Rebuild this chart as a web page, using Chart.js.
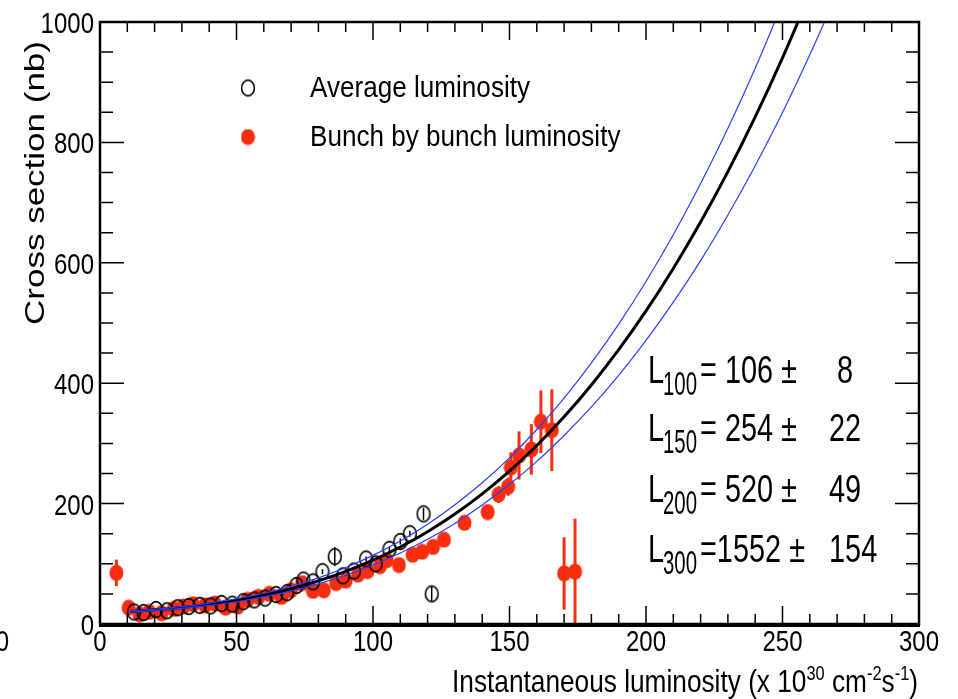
<!DOCTYPE html>
<html>
<head>
<meta charset="utf-8">
<script src="https://cdn.jsdelivr.net/npm/chart.js@4.4.1/dist/chart.umd.min.js"></script>
<style>
  body { margin: 0; background: #fff; }
  #wrap { width: 958px; height: 699px; position: relative; }
</style>
</head>
<body>
<div id="wrap"><canvas id="xsecChart"></canvas></div>
<script>
// tick labels
const xTickLabels = [0, 50, 100, 150, 200, 250, 300];
const yTickLabels = [0, 200, 400, 600, 800, 1000];

// fit curve and its error band
const fitX    = [11, 20, 30, 40, 50, 60, 70, 80, 90, 100, 110, 120, 130, 140, 150, 160, 170, 180, 190, 200, 210, 220, 230, 240, 250, 260];
const fitY    = [20.8, 23.5, 27.5, 32.8, 39.5, 48.1, 58.6, 71.6, 87.4, 106, 127.9, 153.3, 182.6, 216.2, 254, 296.6, 344.2, 397.1, 455.6, 520, 590.6, 667.6, 751.4, 842.3, 940.5, 1046.4];
const bandX   = [11, 20, 30, 40, 50, 60, 70, 80, 90, 100, 110, 120, 130, 140, 150, 160, 170, 180, 190, 200, 210, 220, 230, 240, 250, 260, 270];
const bandUp  = [21.8, 24.7, 29, 34.8, 42, 51.1, 62.6, 76.6, 93.9, 114, 137.9, 165.8, 198.1, 234.7, 276, 323.1, 375.2, 433.6, 498.1, 569, 646.6, 731.6, 823.4, 923.3, 1031.5, 1147.4, 1272];
const bandLow = [19.8, 22.3, 26, 30.8, 37, 45.1, 54.6, 66.6, 80.9, 98, 117.9, 140.8, 167.1, 197.7, 232, 270.1, 313.2, 360.6, 413.1, 471, 534.6, 603.6, 679.4, 761.3, 849.5, 945.4, 1048];

// average luminosity (open circles)
const avgX   = [12.5, 16, 20.5, 24.5, 28.5, 32.5, 36.5, 40.5, 44.5, 48.5, 52.5, 56.5, 60.5, 64.5, 68.5, 72, 74.5, 78, 81.5, 86, 89, 93, 97.5, 101, 106, 110, 113.5, 118.5, 121.5];
const avgY   = [20, 19, 24, 22, 27, 29, 31, 30, 34, 33, 37, 40, 43, 49, 52, 64, 73, 70, 87, 112, 80, 88, 108, 100, 124, 137, 150, 183, 50];
const avgErr = [2, 2, 2, 2, 2, 2, 2, 2, 2, 2, 3, 3, 3, 3, 3, 3, 3, 3, 4, 16, 4, 4, 4, 4, 5, 5, 5, 10, 12];

// bunch by bunch luminosity (red points)
const bunchX   = [6, 10.5, 14.5, 18, 22.5, 27, 30.5, 34, 38.5, 42, 46, 50.5, 54, 58, 62, 66.5, 70, 74, 78, 82, 86.5, 90, 94.5, 98, 102.5, 105, 109.5, 114.5, 118, 122, 126, 133.5, 142, 146, 149.5, 150.5, 153.5, 158, 161.5, 165.5, 170, 174];
const bunchY   = [85, 27, 16, 20, 18, 25, 29, 33, 31, 34, 27, 29, 40, 45, 50, 45, 56, 68, 55, 56, 68, 72, 82, 88, 96, 106, 98, 115, 120, 128, 140, 168, 186, 215, 228, 260, 280, 290, 336, 322, 84, 87];
const bunchErr = [22, 6, 5, 5, 5, 5, 5, 5, 5, 5, 5, 5, 5, 5, 5, 5, 5, 6, 6, 6, 6, 6, 6, 6, 6, 6, 7, 7, 7, 7, 8, 8, 12, 14, 15, 25, 40, 42, 52, 68, 60, 88];

// fit results shown in the box
const lumLabels = ['100', '150', '200', '300'];
const lumValues = [' 106', ' 254', ' 520', '1552'];
const lumErrors = ['   8', '  22', '  49', ' 154'];

const RED = '#fa2d0f';
const BLUE = '#2a3cff';
const FONT = '"Liberation Sans", Arial, sans-serif';

function pts(xs, ys) {
    return xs.map((x, i) => ({ x: x, y: ys[i] }));
}

// the original picture is stretched vertically, so markers are ellipses
function ellipseMarker(w, h, fill, stroke, lw) {
    const c = document.createElement('canvas');
    c.width = w;
    c.height = h;
    const g = c.getContext('2d');
    g.beginPath();
    g.ellipse(w / 2, h / 2, w / 2 - lw, h / 2 - lw, 0, 0, Math.PI * 2);
    if (fill) {
        g.fillStyle = fill;
        g.fill();
    }
    if (stroke) {
        g.strokeStyle = stroke;
        g.lineWidth = lw;
        g.stroke();
    }
    return c;
}

const openMarker = ellipseMarker(16, 19, null, '#000', 1.6);
const redMarker = ellipseMarker(15, 17, RED, null, 0.5);

// stretched text, like the original
function txt(ctx, s, x, y, size, sx, align) {
    ctx.save();
    ctx.translate(x, y);
    ctx.scale(sx, 1);
    ctx.font = size + 'px ' + FONT;
    ctx.textAlign = align || 'left';
    ctx.textBaseline = 'alphabetic';
    ctx.fillStyle = '#000';
    ctx.fillText(s, 0, 0);
    ctx.restore();
}

function txtWidth(ctx, s, size, sx) {
    ctx.font = size + 'px ' + FONT;
    return ctx.measureText(s).width * sx;
}

const errorBars = {
    id: 'errorBars',
    beforeDatasetsDraw(chart) {
        const ctx = chart.ctx;
        const xs = chart.scales.x, ys = chart.scales.y;
        ctx.save();
        ctx.beginPath();
        ctx.rect(chart.chartArea.left, chart.chartArea.top, chart.chartArea.width, chart.chartArea.height);
        ctx.clip();
        ctx.strokeStyle = RED;
        ctx.lineWidth = 3;
        bunchX.forEach((x, i) => {
            const px = xs.getPixelForValue(x);
            ctx.beginPath();
            ctx.moveTo(px, ys.getPixelForValue(bunchY[i] - bunchErr[i]));
            ctx.lineTo(px, ys.getPixelForValue(bunchY[i] + bunchErr[i]));
            ctx.stroke();
        });
        ctx.strokeStyle = '#000';
        ctx.lineWidth = 1.5;
        avgX.forEach((x, i) => {
            const px = xs.getPixelForValue(x);
            ctx.beginPath();
            ctx.moveTo(px, ys.getPixelForValue(avgY[i] - avgErr[i]));
            ctx.lineTo(px, ys.getPixelForValue(avgY[i] + avgErr[i]));
            ctx.stroke();
        });
        ctx.restore();
    }
};

const frameAndText = {
    id: 'frameAndText',
    afterDatasetsDraw(chart) {
        const ctx = chart.ctx;
        const a = chart.chartArea;
        const xs = chart.scales.x, ys = chart.scales.y;
        ctx.save();
        ctx.strokeStyle = '#000';

        // frame
        ctx.lineWidth = 2.5;
        ctx.strokeRect(a.left, a.top, a.right - a.left, a.bottom - a.top);
        ctx.lineWidth = 4;
        ctx.beginPath();
        ctx.moveTo(a.left - 1, a.bottom + 1);
        ctx.lineTo(a.right + 1, a.bottom + 1);
        ctx.stroke();

        // inward ticks
        ctx.lineWidth = 1.5;
        for (let v = 0; v <= 300; v += 10) {
            const px = xs.getPixelForValue(v);
            const len = v % 50 === 0 ? 18 : 10;
            ctx.beginPath();
            ctx.moveTo(px, a.bottom);
            ctx.lineTo(px, a.bottom - len);
            ctx.moveTo(px, a.top);
            ctx.lineTo(px, a.top + len);
            ctx.stroke();
        }
        for (let v = 0; v <= 1000; v += 50) {
            const py = ys.getPixelForValue(v);
            const len = v % 200 === 0 ? 24 : 13;
            ctx.beginPath();
            ctx.moveTo(a.left, py);
            ctx.lineTo(a.left + len, py);
            ctx.moveTo(a.right, py);
            ctx.lineTo(a.right - len, py);
            ctx.stroke();
        }

        // tick labels
        xTickLabels.forEach(v => txt(ctx, String(v), xs.getPixelForValue(v), 651, 30, 0.8, 'center'));
        yTickLabels.forEach(v => txt(ctx, String(v), a.left - 6, ys.getPixelForValue(v) + 11, 30, 0.8, 'right'));
        txt(ctx, '0', 9, 651, 30, 0.8, 'right');

        // y title
        ctx.save();
        ctx.translate(44, 183);
        ctx.rotate(-Math.PI / 2);
        ctx.scale(1.25, 1);
        ctx.font = '28px ' + FONT;
        ctx.textAlign = 'center';
        ctx.fillStyle = '#000';
        ctx.fillText('Cross section (nb)', 0, 0);
        ctx.restore();

        // x title with superscripts
        const parts = [
            ['Instantaneous luminosity (x 10', false], ['30', true], [' cm', false],
            ['-2', true], ['s', false], ['-1', true], [')', false]
        ];
        const big = 32, small = 20, sx = 0.82;
        let total = 0;
        parts.forEach(p => { total += txtWidth(ctx, p[0], p[1] ? small : big, sx); });
        let cx = 918 - total;
        parts.forEach(p => {
            const size = p[1] ? small : big;
            txt(ctx, p[0], cx, p[1] ? 680 : 692, size, sx, 'left');
            cx += txtWidth(ctx, p[0], size, sx);
        });

        // legend
        ctx.drawImage(openMarker, 248 - openMarker.width / 2, 88 - openMarker.height / 2);
        ctx.drawImage(redMarker, 248 - redMarker.width / 2, 137 - redMarker.height / 2);
        txt(ctx, 'Average luminosity', 310, 97, 30, 0.87, 'left');
        txt(ctx, 'Bunch by bunch luminosity', 310, 146, 30, 0.87, 'left');

        // fit results
        const rowBase = [383, 441, 502, 562];
        lumLabels.forEach((lab, i) => {
            txt(ctx, 'L', 648, rowBase[i], 38, 0.76, 'left');
            txt(ctx, lab, 663, rowBase[i] + 12, 34, 0.6, 'left');
            txt(ctx, '=' + lumValues[i] + ' \u00b1  ' + lumErrors[i], 700, rowBase[i], 38, 0.76, 'left');
        });

        ctx.restore();
    }
};

new Chart(document.getElementById('xsecChart'), {
    type: 'scatter',
    data: {
        datasets: [
            {
                label: 'band up',
                data: pts(bandX, bandUp),
                showLine: true,
                borderColor: BLUE,
                borderWidth: 1.2,
                pointRadius: 0,
                tension: 0.4
            },
            {
                label: 'band low',
                data: pts(bandX, bandLow),
                showLine: true,
                borderColor: BLUE,
                borderWidth: 1.2,
                pointRadius: 0,
                tension: 0.4
            },
            {
                label: 'fit',
                data: pts(fitX, fitY),
                showLine: true,
                borderColor: '#000',
                borderWidth: 3,
                pointRadius: 0,
                tension: 0.4
            },
            {
                label: 'Average luminosity',
                data: pts(avgX, avgY),
                pointStyle: openMarker,
                borderColor: '#000',
                backgroundColor: 'rgba(0,0,0,0)'
            },
            {
                label: 'Bunch by bunch luminosity',
                data: pts(bunchX, bunchY),
                pointStyle: redMarker,
                borderColor: RED,
                backgroundColor: RED
            }
        ]
    },
    options: {
        responsive: true,
        maintainAspectRatio: false,
        animation: false,
        events: [],
        layout: {
            padding: { left: 100, right: 39, top: 22, bottom: 75 }
        },
        plugins: {
            legend: { display: false },
            tooltip: { enabled: false }
        },
        scales: {
            x: { type: 'linear', min: 0, max: 300, display: false },
            y: { type: 'linear', min: 0, max: 1000, display: false }
        }
    },
    plugins: [errorBars, frameAndText]
});
</script>
</body>
</html>
